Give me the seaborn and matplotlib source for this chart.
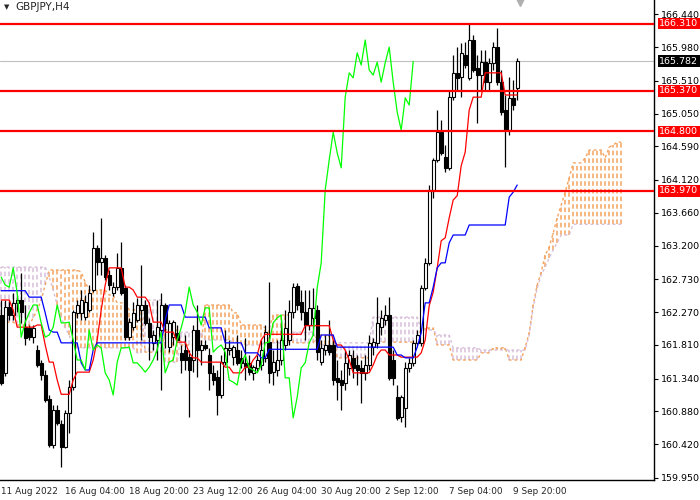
import numpy as np
import pandas as pd
import matplotlib
matplotlib.use("Agg")
import matplotlib.pyplot as plt
import matplotlib.transforms as mtransforms
import seaborn as sns

chart_title = "GBPJPY,H4"

# H4 candles, one value per bar (bar 0 = 11 Aug 2022 12:00)
opens = [162.23, 161.42, 162.34, 162.23, 162.40, 162.44, 162.06, 162.05, 161.92, 161.74,
         161.56, 161.39, 161.05, 160.41, 160.90, 160.70, 160.38, 160.86, 161.22, 162.26,
         162.26, 162.20, 162.30, 162.58, 163.17, 162.97, 163.03, 162.79, 162.54, 162.62,
         162.89, 162.61, 161.92, 162.06, 162.16, 162.30, 162.37, 162.12, 161.84, 161.88,
         162.02, 162.37, 161.78, 161.92, 161.98, 161.70, 161.74, 161.64, 161.60, 162.02,
         161.74, 161.81, 161.67, 161.42, 161.36, 161.11, 161.57, 161.74, 161.64, 161.74,
         161.63, 161.56, 161.56, 161.42, 161.49, 161.53, 161.63, 161.85, 161.43, 161.46,
         161.60, 161.81, 161.88, 162.27, 162.64, 162.41, 162.27, 162.09, 162.19, 162.30,
         161.57, 161.74, 161.81, 161.81, 161.35, 161.32, 161.28, 161.49, 161.63, 161.53,
         161.49, 161.42, 161.53, 161.78, 161.84, 162.06, 162.16, 162.23, 161.60, 161.08,
         160.80, 160.93, 161.49, 161.56, 161.84, 161.84, 162.61, 162.96, 163.98, 164.40,
         164.79, 164.44, 164.29, 165.28, 165.62, 165.56, 165.87, 165.55, 166.08, 165.69,
         165.59, 165.77, 165.49, 165.76, 165.98, 165.49, 165.10, 164.82, 165.27, 165.41]
highs = [162.44, 162.44, 162.44, 162.54, 162.51, 162.82, 162.37, 162.09, 162.09, 161.81,
         161.60, 161.46, 161.11, 160.97, 160.97, 160.76, 160.90, 161.32, 162.30, 162.44,
         162.58, 162.51, 162.65, 163.39, 163.21, 163.59, 163.07, 162.86, 162.69, 163.10,
         163.25, 162.65, 162.19, 162.41, 162.47, 162.93, 162.44, 162.19, 162.02, 162.44,
         162.54, 162.40, 162.16, 162.16, 162.09, 161.81, 161.95, 161.74, 162.09, 162.37,
         161.88, 161.88, 161.77, 161.53, 161.46, 161.67, 162.02, 161.88, 161.81, 161.95,
         161.74, 161.91, 161.67, 161.53, 161.67, 161.88, 162.09, 162.69, 161.74, 161.88,
         162.16, 162.30, 162.44, 162.68, 162.68, 162.58, 162.58, 162.58, 162.61, 162.37,
         161.88, 161.95, 162.16, 161.88, 161.60, 161.46, 161.74, 161.74, 161.74, 161.67,
         161.60, 161.67, 161.95, 161.91, 162.48, 162.30, 162.37, 162.48, 161.74, 161.25,
         161.11, 161.57, 161.63, 161.88, 162.02, 162.65, 163.03, 164.05, 164.43, 165.10,
         164.96, 164.61, 165.38, 165.87, 165.98, 166.04, 166.05, 166.32, 166.15, 165.87,
         165.94, 165.94, 165.83, 166.05, 166.25, 165.66, 165.31, 165.56, 165.52, 165.83]
lows = [161.25, 161.38, 162.16, 162.16, 162.27, 162.12, 161.81, 161.88, 161.84, 161.50,
        161.32, 161.01, 160.38, 160.37, 160.69, 160.10, 160.37, 160.58, 161.18, 162.19,
        162.16, 162.16, 162.27, 162.55, 162.79, 162.79, 162.72, 162.58, 162.50, 162.58,
        162.51, 161.88, 161.88, 162.02, 162.13, 161.88, 162.09, 161.60, 161.74, 161.60,
        161.18, 161.77, 161.71, 161.81, 161.88, 161.42, 161.46, 160.80, 161.43, 161.36,
        161.53, 161.74, 161.18, 161.25, 160.83, 161.07, 161.53, 161.67, 161.53, 161.53,
        161.49, 161.32, 161.39, 161.32, 161.43, 161.46, 161.57, 161.28, 161.25, 161.38,
        161.53, 161.74, 161.81, 162.19, 162.30, 162.16, 161.88, 162.02, 161.95, 161.60,
        161.53, 161.67, 161.67, 161.25, 161.04, 160.90, 161.18, 161.39, 161.35, 161.25,
        161.00, 161.32, 161.46, 161.67, 161.77, 161.95, 162.09, 161.32, 161.25, 160.76,
        160.73, 160.66, 161.43, 161.52, 161.81, 161.80, 162.58, 162.93, 163.87, 164.37,
        164.47, 164.23, 164.26, 165.24, 165.38, 165.28, 165.69, 165.52, 165.63, 164.92,
        165.38, 165.38, 165.38, 165.66, 165.45, 165.03, 164.30, 164.75, 165.10, 165.24]
closes = [161.28, 162.34, 162.23, 162.40, 162.44, 162.27, 161.91, 161.92, 162.05, 161.53,
          161.39, 161.04, 160.41, 160.90, 160.72, 160.38, 160.86, 161.22, 162.27, 162.37,
          162.44, 162.41, 162.54, 163.17, 162.97, 163.03, 162.76, 162.65, 162.62, 162.89,
          162.54, 161.92, 162.13, 162.26, 162.37, 162.37, 162.12, 161.92, 161.95, 162.06,
          162.37, 162.12, 162.12, 162.13, 161.88, 161.60, 161.60, 161.46, 162.02, 161.74,
          161.81, 161.77, 161.42, 161.32, 161.11, 161.57, 161.77, 161.77, 161.78, 161.56,
          161.56, 161.50, 161.43, 161.50, 161.60, 161.74, 161.99, 161.42, 161.57, 161.60,
          161.88, 162.05, 162.27, 162.62, 162.37, 162.27, 162.09, 162.33, 162.33, 161.71,
          161.77, 161.81, 161.71, 161.32, 161.29, 161.25, 161.56, 161.67, 161.49, 161.46,
          161.42, 161.53, 161.84, 161.85, 162.12, 162.19, 162.23, 161.35, 161.35, 160.79,
          161.08, 161.49, 161.56, 161.84, 161.95, 162.61, 162.96, 163.98, 164.40, 164.79,
          164.50, 164.29, 165.28, 165.62, 165.55, 165.90, 165.73, 166.08, 165.66, 165.59,
          165.77, 165.49, 165.76, 165.98, 165.49, 165.07, 164.82, 165.27, 165.17, 165.782]

# Ichimoku lines, one value per bar
tenkan = ([162.44] * 3 + [162.30] + [162.06] * 5 + [162.09] * 2 + [161.81] + [161.57] * 2
          + [161.32] + [161.12] * 3 + [161.32] + [161.43] * 4 + [161.60, 161.88, 162.30, 162.65]
          + [162.89] * 4 + [162.62] * 2 + [162.58] + [162.48] * 3 + [162.40] + [162.13] * 3
          + [161.99] * 3 + [161.85] * 3 + [161.70] + [161.63] * 2 + [161.57] * 6 + [161.50] * 2
          + [161.42] * 3 + [161.50] * 2 + [161.60, 161.67, 161.88] + [161.96] * 10 + [162.08] * 7
          + [161.88] + [161.81] * 2 + [161.74, 161.60] + [161.42] * 5 + [161.53, 161.67]
          + [161.74] * 2 + [161.67] * 3 + [161.64] * 5
          + [161.70, 161.88, 162.36, 162.55, 162.89, 163.27, 163.31, 163.59, 163.84, 163.90,
             164.32, 164.51, 165.10]
          + [165.28] * 3 + [165.62] * 5 + [165.31] * 4)
kijun = ([162.57] * 7 + [162.48] * 4 + [162.26, 162.02] + [161.99] * 2 + [161.84] * 5
         + [161.56] + [161.46] * 2 + [161.74] + [161.84] * 17 + [162.16] + [162.37] * 4
         + [162.20] * 6 + [162.05] * 4 + [161.84] * 5 + [161.70] * 4 + [161.63] * 2
         + [161.75] * 13 + [161.95] * 4 + [161.78] * 15 + [161.67] * 2 + [161.63] * 3
         + [161.78, 161.98] + [162.40] * 2 + [162.62, 162.89] + [162.96] * 2 + [163.24]
         + [163.35] * 4 + [163.49] * 10 + [163.88, 163.95, 164.05])
# senkou spans, already shifted 26 bars ahead (156 values)
span_a = ([162.13] * 4 + [162.09] * 4 + [162.19, 162.30, 162.44, 162.65] + [162.86] * 8
          + [162.83, 162.69] + [162.58] * 5 + [162.51] * 2 + [162.40] * 3 + [162.30] * 4
          + [161.71] * 5 + [162.02] * 4 + [161.81] * 6 + [162.37] * 7 + [162.26] * 2
          + [162.09] * 6 + [162.05] * 2 + [162.23] * 5 + [161.84] * 6 + [161.95] * 5
          + [161.63] * 9 + [161.85] * 12 + [162.05] * 4 + [161.81] * 4 + [161.60] * 7
          + [161.70] * 3 + [161.77] * 4 + [161.60] * 4
          + [161.78, 161.98, 162.37, 162.65, 162.83, 163.07, 163.18, 163.38, 163.59, 163.77,
             163.95, 164.15]
          + [164.36] * 3 + [164.43] + [164.54] * 4 + [164.43, 164.58, 164.61] + [164.65] * 2)
span_b = ([162.90] * 12 + [162.76, 162.58, 162.37, 162.20, 162.05, 161.95] + [161.77] * 16
          + [161.70] * 2 + [162.44] * 5 + [161.57] * 4 + [161.99] * 6 + [161.88] * 7
          + [161.85] * 2 + [161.81] * 6 + [161.85] * 2 + [161.84] * 5 + [161.99] * 6
          + [161.81] * 5 + [161.84] * 9 + [162.20] * 12 + [162.02] * 4 + [161.95] * 4
          + [161.77] * 7 + [161.74] * 12
          + [161.95, 162.33, 162.61, 162.79, 162.90, 163.03, 163.14, 163.24]
          + [163.35] * 3 + [163.50] * 13)
chikou_shift = 26

level_prices = [166.310, 165.370, 164.800, 163.970]
bid_price = 165.782
price_ticks = [166.440, 165.980, 165.510, 165.050, 164.590, 164.120, 163.660, 163.200,
               162.730, 162.270, 161.810, 161.340, 160.880, 160.420, 159.950]
time_tick_bars = [0, 16, 32, 48, 64, 80, 96, 112, 128]
time_tick_labels = ["11 Aug 2022", "16 Aug 04:00", "18 Aug 20:00", "23 Aug 12:00",
                    "26 Aug 04:00", "30 Aug 20:00", "2 Sep 12:00", "7 Sep 04:00", "9 Sep 20:00"]

sns.set_style("white")
plt.rcParams['font.family'] = ['DejaVu Sans']

o = np.array(opens)
h = np.array(highs)
l = np.array(lows)
c = np.array(closes)
bars = np.arange(len(c))

lines = pd.DataFrame({'bar': bars, 'tenkan': tenkan, 'kijun': kijun})
chikou = pd.DataFrame({'bar': bars[chikou_shift:] - chikou_shift, 'close': c[chikou_shift:]})
a = np.array(span_a)
b = np.array(span_b)
cloud = pd.DataFrame({'bar': np.arange(len(a)), 'a': a, 'b': b})

fig = plt.figure(figsize=(7, 5), dpi=100)
ax = fig.add_axes([0, 0.04, 654 / 700, 0.96])

# kumo drawn as dotted vertical histogram
bull = a >= b
ax.vlines(cloud['bar'][bull], b[bull], a[bull], colors='#F4A460', linewidth=1.1,
          linestyles=(0, (3, 2)), zorder=1)
ax.vlines(cloud['bar'][~bull], a[~bull], b[~bull], colors='#D8BFD8', linewidth=1.1,
          linestyles=(0, (3, 2)), zorder=1)
sns.lineplot(data=cloud, x='bar', y='a', color='#F4A460', linewidth=1.0,
             linestyle=(0, (2, 2)), estimator=None, sort=False, ax=ax, zorder=1)
sns.lineplot(data=cloud, x='bar', y='b', color='#D8BFD8', linewidth=1.0,
             linestyle=(0, (2, 2)), estimator=None, sort=False, ax=ax, zorder=1)

# candles
up = c >= o
body_low = np.minimum(o, c)
body_h = np.maximum(np.abs(c - o), 0.012)
ax.vlines(bars, l, h, color='black', linewidth=0.9, zorder=3)
ax.bar(bars, body_h, bottom=body_low, width=0.72, color=np.where(up, 'white', 'black'),
       edgecolor='black', linewidth=0.8, zorder=4)

sns.lineplot(data=lines, x='bar', y='tenkan', color='red', linewidth=0.9,
             estimator=None, ax=ax, zorder=5)
sns.lineplot(data=lines, x='bar', y='kijun', color='blue', linewidth=0.9,
             estimator=None, ax=ax, zorder=5)
sns.lineplot(data=chikou, x='bar', y='close', color='#00FF00', linewidth=0.9,
             estimator=None, ax=ax, zorder=5)

ax.axhline(bid_price, color='#C0C0C0', linewidth=0.8, zorder=2)
for p in level_prices:
    ax.axhline(p, color='red', linewidth=1.6, zorder=6)

ax.set_xlim(-0.3, 163.2)
ax.set_ylim(159.92, 166.64)
ax.set_xlabel('')
ax.set_ylabel('')

ax.yaxis.tick_right()
ax.set_yticks(price_ticks)
ax.set_yticklabels([f"{p:.3f}" for p in price_ticks])
ax.tick_params(axis='y', length=3, width=0.8, labelsize=6.8, pad=2, direction='out',
               colors='black')
ax.set_xticks(time_tick_bars)
ax.set_xticklabels(time_tick_labels, ha='left')
ax.tick_params(axis='x', length=4, width=0.8, labelsize=6.4, pad=1, direction='out')

for side in ['left', 'top']:
    ax.spines[side].set_visible(False)
for side in ['right', 'bottom']:
    ax.spines[side].set_color('black')
    ax.spines[side].set_linewidth(1.0)

trans = mtransforms.blended_transform_factory(ax.transAxes, ax.transData)
for p in level_prices:
    ax.text(1.008, p, f"{p:.3f}", transform=trans, color='white', fontsize=6.8,
            va='center', ha='left', zorder=10, clip_on=False,
            bbox=dict(boxstyle='square,pad=0.15', fc='red', ec='none'))
ax.text(1.008, bid_price, f"{bid_price:.3f}", transform=trans, color='white', fontsize=6.8,
        va='center', ha='left', zorder=10, clip_on=False,
        bbox=dict(boxstyle='square,pad=0.15', fc='black', ec='none'))

fig.text(4 / 700, 1 - 7 / 500, "\u25BC", fontsize=5, va='center', ha='left')
fig.text(15 / 700, 1 - 7 / 500, chart_title, fontsize=7.5, va='center', ha='left')
ax.plot([520 / 654], [0.997], marker='v', color='#B0B0B0', markersize=7,
        transform=ax.transAxes, clip_on=False)

fig.savefig('out.png', dpi=100)
